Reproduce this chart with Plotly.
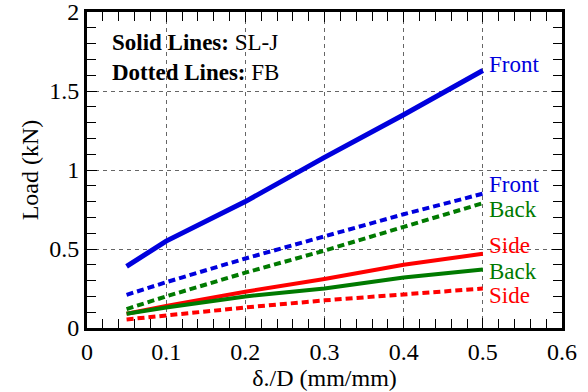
import plotly.graph_objects as go

x = [0.05, 0.1, 0.2, 0.3, 0.4, 0.5]
sl_front = [0.39, 0.55, 0.80, 1.08, 1.35, 1.63]
sl_side = [0.09, 0.14, 0.23, 0.31, 0.40, 0.47]
sl_back = [0.09, 0.13, 0.20, 0.25, 0.32, 0.37]
fb_front = [0.21, 0.29, 0.44, 0.58, 0.72, 0.85]
fb_back = [0.12, 0.20, 0.35, 0.49, 0.64, 0.79]
fb_side = [0.054, 0.08, 0.13, 0.175, 0.21, 0.25]

BLUE = "#0000dd"
GREEN = "#007a00"
RED = "#ff0000"
FONT = "Liberation Serif, DejaVu Serif, serif"

fig = go.Figure()
series = [
    (sl_front, BLUE, "solid", 5),
    (fb_front, BLUE, "7px,4px", 4),
    (fb_back, GREEN, "7px,4px", 4),
    (sl_side, RED, "solid", 4),
    (sl_back, GREEN, "solid", 4),
    (fb_side, RED, "7px,4px", 4),
]
for ys, c, d, w in series:
    fig.add_trace(go.Scatter(x=x, y=ys, mode="lines",
                             line=dict(color=c, width=w, dash=d),
                             showlegend=False, hoverinfo="skip"))

labels = [("Front", 1.67, BLUE), ("Front", 0.91, BLUE), ("Back", 0.75, GREEN),
          ("Side", 0.525, RED), ("Back", 0.36, GREEN), ("Side", 0.205, RED)]
for t, yv, c in labels:
    fig.add_annotation(x=0.508, y=yv, text=t, showarrow=False, xanchor="left",
                       yanchor="middle", xshift=-2,
                       font=dict(family=FONT, size=23, color=c))

fig.add_annotation(x=0.033, y=1.81, text="<b>Solid Lines:</b> SL-J", showarrow=False,
                   xanchor="left", yanchor="middle", xshift=-3,
                   font=dict(family=FONT, size=23, color="black"))
fig.add_annotation(x=0.033, y=1.62, text="<b>Dotted Lines:</b> FB", showarrow=False,
                   xanchor="left", yanchor="middle", xshift=-3,
                   font=dict(family=FONT, size=23, color="black"))

axis_common = dict(
    showline=True, linewidth=3, linecolor="black", mirror="allticks",
    ticks="inside", ticklen=10, tickwidth=1, tickcolor="black",
    showgrid=True, gridcolor="#666666", gridwidth=1, griddash="4px,4px",
    zeroline=False, automargin=False, ticklabeloverflow="allow",
    tickfont=dict(family=FONT, size=24, color="black"),
)

fig.update_xaxes(range=[0, 0.6], tickvals=[0, 0.1, 0.2, 0.3, 0.4, 0.5, 0.6],
                 ticktext=["0", "0.1", "0.2", "0.3", "0.4", "0.5", "0.6"],
                 minor=dict(dtick=0.02, ticks="inside", ticklen=9, tickcolor="black", showgrid=False),
                 title=dict(text="δ./D (mm/mm)", font=dict(family=FONT, size=24, color="black"), standoff=2),
                 **axis_common)
fig.update_yaxes(range=[0, 2], tickvals=[0, 0.5, 1, 1.5, 2],
                 ticktext=["0", "0.5", "1", "1.5", "2"],
                 minor=dict(dtick=0.1, ticks="inside", ticklen=9, tickcolor="black", showgrid=False),
                 title=dict(text="Load (kN)", font=dict(family=FONT, size=24, color="black"), standoff=4),
                 **axis_common)

fig.update_layout(width=588, height=392, margin=dict(l=87, r=26, t=12, b=64),
                  plot_bgcolor="white", paper_bgcolor="white",
                  font=dict(family=FONT))

fig.write_html("out.html", config={"displayModeBar": False},
               post_script="document.body.style.margin='0';document.body.style.padding='0';")
